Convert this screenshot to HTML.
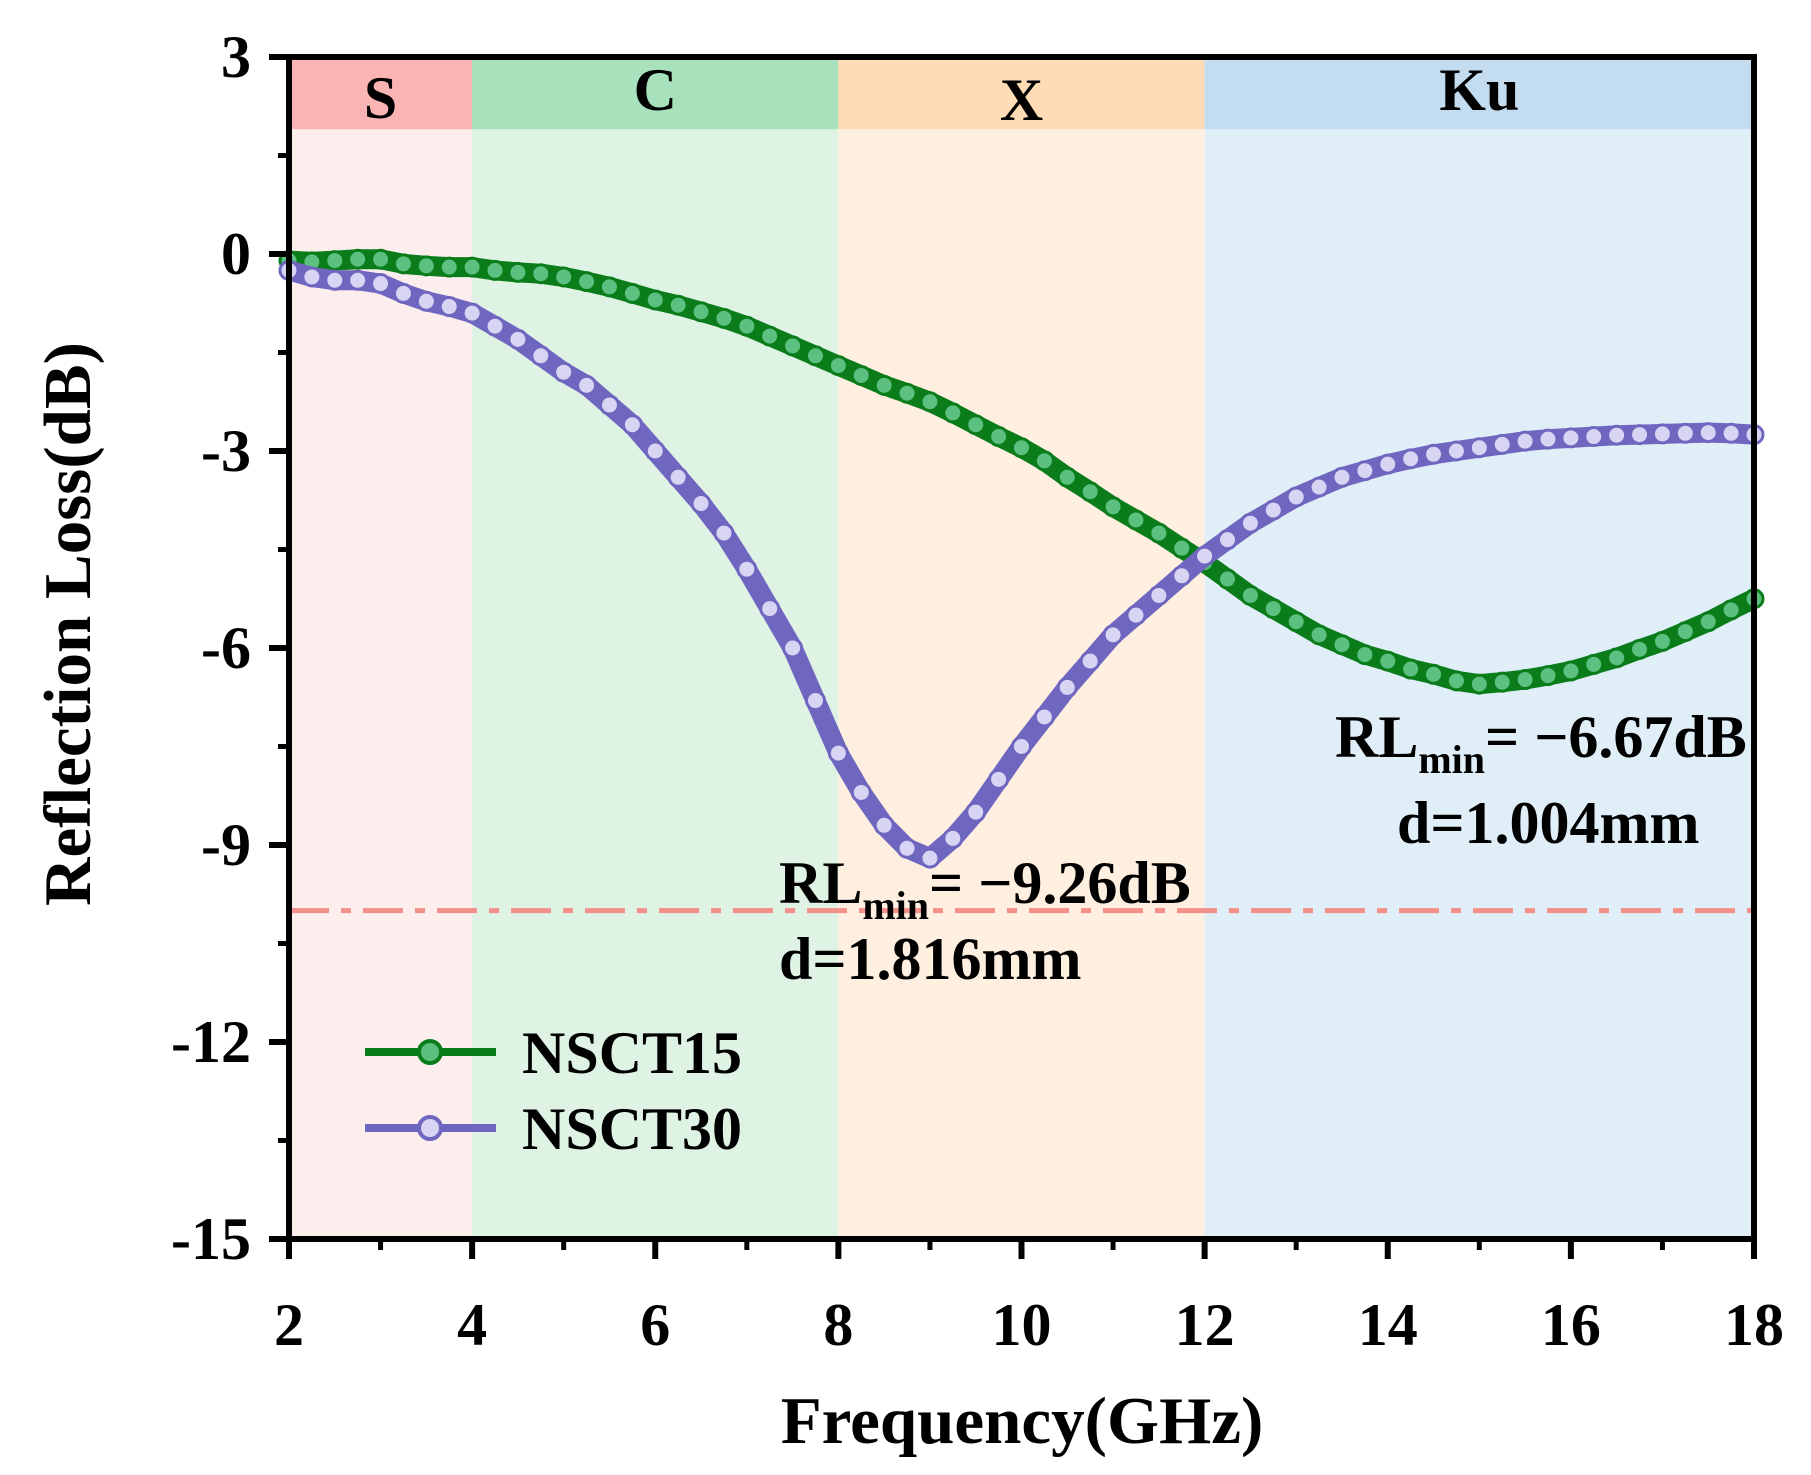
<!DOCTYPE html>
<html><head><meta charset="utf-8"><style>
html,body{margin:0;padding:0;background:#fff;}
svg{display:block;font-family:"Liberation Serif",serif;font-weight:bold;}
</style></head><body>
<svg id="chart" width="1811" height="1475" viewBox="0 0 1811 1475" xmlns="http://www.w3.org/2000/svg" style="position:absolute;left:0;top:0">
<g id="bands"></g><g id="series"></g><g id="axes"></g><g id="labels"></g>
</svg>
<script>
const freqs = [2,2.25,2.5,2.75,3,3.25,3.5,3.75,4,4.25,4.5,4.75,5,5.25,5.5,5.75,6,6.25,6.5,6.75,7,7.25,7.5,7.75,8,8.25,8.5,8.75,9,9.25,9.5,9.75,10,10.25,10.5,10.75,11,11.25,11.5,11.75,12,12.25,12.5,12.75,13,13.25,13.5,13.75,14,14.25,14.5,14.75,15,15.25,15.5,15.75,16,16.25,16.5,16.75,17,17.25,17.5,17.75,18];
const nsct15 = [-0.1,-0.12,-0.1,-0.08,-0.08,-0.15,-0.18,-0.2,-0.2,-0.25,-0.28,-0.3,-0.35,-0.42,-0.5,-0.6,-0.7,-0.78,-0.88,-0.98,-1.1,-1.25,-1.4,-1.55,-1.7,-1.85,-2.0,-2.12,-2.25,-2.42,-2.6,-2.78,-2.95,-3.15,-3.4,-3.62,-3.85,-4.05,-4.25,-4.48,-4.7,-4.95,-5.2,-5.4,-5.6,-5.8,-5.95,-6.1,-6.2,-6.32,-6.4,-6.5,-6.55,-6.52,-6.48,-6.42,-6.35,-6.25,-6.15,-6.02,-5.9,-5.75,-5.6,-5.42,-5.25];
const nsct30 = [-0.25,-0.35,-0.4,-0.4,-0.45,-0.6,-0.72,-0.8,-0.9,-1.1,-1.3,-1.55,-1.8,-2.0,-2.3,-2.6,-3.0,-3.4,-3.8,-4.25,-4.8,-5.4,-6.0,-6.8,-7.6,-8.2,-8.7,-9.05,-9.2,-8.9,-8.5,-8.0,-7.5,-7.05,-6.6,-6.2,-5.8,-5.5,-5.2,-4.9,-4.6,-4.35,-4.1,-3.9,-3.7,-3.55,-3.4,-3.3,-3.2,-3.12,-3.05,-3.0,-2.95,-2.9,-2.85,-2.82,-2.8,-2.78,-2.76,-2.75,-2.74,-2.73,-2.72,-2.73,-2.75];
const xTicks = [2,4,6,8,10,12,14,16,18];
const yTicks = [3,0,-3,-6,-9,-12,-15];
const bandNames = ["S","C","X","Ku"];
const bandStart = [2,4,8,12];
const bandEnd = [4,8,12,18];
const L=289,R=1754,T=57,B=1239;
const X=v=>L+(v-2)/16*(R-L);
const Y=v=>T+(3-v)/18*(B-T);
const NS="http://www.w3.org/2000/svg";
function mk(tag,attrs,parent,text){const e=document.createElementNS(NS,tag);for(const k in attrs)e.setAttribute(k,attrs[k]);if(text!==undefined)e.textContent=text;parent.appendChild(e);return e;}
const bands=document.getElementById('bands'),series=document.getElementById('series'),axes=document.getElementById('axes'),labels=document.getElementById('labels');
const headC=["#fbb4b4","#a8e2bc","#ffdcb6","#c4dcef"],bodyC=["#fdeeee","#dff3e5","#ffefe0","#e0eef8"];
bandNames.forEach((n,i)=>{
  let r=mk('rect',{x:X(bandStart[i]),y:T,width:X(bandEnd[i])-X(bandStart[i]),height:B-T,fill:bodyC[i]},bands);
  
  
  let h=mk('rect',{x:X(bandStart[i]),y:T,width:X(bandEnd[i])-X(bandStart[i]),height:Y(1.9)-T,fill:headC[i]},bands);
  
  
  let t=mk('text',{x:(X(bandStart[i])+X(bandEnd[i]))/2,y:i==2?120:i==0?118:110,'font-size':60,'text-anchor':'middle'},labels,n);
  
  
});
let th=mk('line',{x1:L,x2:R,y1:Y(-10),y2:Y(-10),stroke:"#f4908a",'stroke-width':5,'stroke-dasharray':'40 12 10 12'},series);


function drawSeries(vals,dark,light,name){
  const pts=freqs.map((f,i)=>X(f)+','+Y(vals[i])).join(' ');
  let pl=mk('polyline',{points:pts,fill:'none',stroke:dark,'stroke-width':20,'stroke-linejoin':'round','stroke-linecap':'round'},series);
  
  
  freqs.forEach((f,i)=>{
    let c=mk('circle',{cx:X(f),cy:Y(vals[i]),r:9,fill:light,stroke:dark,'stroke-width':3},series);
    
    
  });
}
drawSeries(nsct15,"#0a7d1a","#5cc080","nsct15");
drawSeries(nsct30,"#6f66c0","#d8d4f4","nsct30");
let fr=mk('rect',{x:L,y:T,width:R-L,height:B-T,fill:'none',stroke:'#000','stroke-width':6},axes);


xTicks.forEach(v=>{
  mk('line',{x1:X(v),x2:X(v),y1:B,y2:B+20,stroke:'#000','stroke-width':6},axes);
  if(v<18) mk('line',{x1:X(v+1),x2:X(v+1),y1:B,y2:B+11,stroke:'#000','stroke-width':5},axes);
  let t=mk('text',{x:X(v),y:1345,'font-size':60,'text-anchor':'middle'},labels,v);
  
  
});
yTicks.forEach(v=>{
  mk('line',{x1:L-20,x2:L,y1:Y(v),y2:Y(v),stroke:'#000','stroke-width':6},axes);
  if(v>-15) mk('line',{x1:L-11,x2:L,y1:Y(v-1.5),y2:Y(v-1.5),stroke:'#000','stroke-width':5},axes);
  let t=mk('text',{x:251,y:Y(v)+20,'font-size':60,'text-anchor':'end'},labels,v);
  
  
});
</script>
<svg style="position:absolute;left:0;top:0" width="1811" height="1475">
<g font-family="Liberation Serif, serif" font-weight="bold" fill="#000">
<text x="1022" y="1443" font-size="67" text-anchor="middle">Frequency(GHz)</text>
<text x="0" y="0" font-size="67" text-anchor="middle" transform="translate(90,624) rotate(-90)">Reflection Loss(dB)</text>
<text x="779" y="903" font-size="60">RL<tspan font-size="40" dy="16">min</tspan><tspan dy="-16">= −9.26dB</tspan></text>
<text x="779" y="979" font-size="60">d=1.816mm</text>
<text x="1335" y="757" font-size="60">RL<tspan font-size="40" dy="16">min</tspan><tspan dy="-16">= −6.67dB</tspan></text>
<text x="1397" y="843" font-size="60">d=1.004mm</text>
<g>
<line x1="365" x2="496" y1="1052" y2="1052" stroke="#0a7d1a" stroke-width="8"/>
<circle cx="430" cy="1052" r="11" fill="#5cc080" stroke="#0a7d1a" stroke-width="4"/>
<text x="522" y="1073" font-size="60">NSCT15</text>
<line x1="365" x2="496" y1="1128" y2="1128" stroke="#6f66c0" stroke-width="8"/>
<circle cx="430" cy="1128" r="11" fill="#d8d4f4" stroke="#6f66c0" stroke-width="4"/>
<text x="522" y="1149" font-size="60">NSCT30</text>
</g>
</g>
</svg>
</body></html>
